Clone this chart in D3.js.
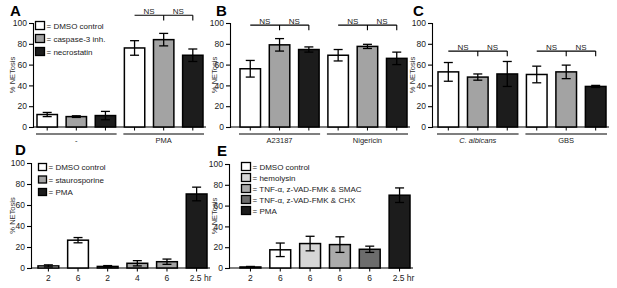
<!DOCTYPE html>
<html><head><meta charset="utf-8">
<script src="https://cdn.jsdelivr.net/npm/d3@7"></script>
<style>body{margin:0;background:#fff}svg{display:block}text{font-family:"Liberation Sans",Arial,sans-serif}</style>
</head><body>
<svg id="c" width="617" height="288"></svg>
<script>
// ---------- data ----------
const yTicks = [0, 20, 40, 60, 80, 100];
const yTitle = "% NETosis";

const aSeries = ["DMSO control", "caspase-3 inh.", "necrostatin", "DMSO control", "caspase-3 inh.", "necrostatin"];
const aValues = [12, 10, 11, 76, 84, 69];
const aErrors = [2, 0.8, 4, 7, 6, 6];
const aGroups = ["-", "PMA"];

const bSeries = aSeries;
const bValues = [56, 79, 74.5, 69, 77.5, 66];
const bErrors = [8, 6, 2.5, 5.5, 2, 6];
const bGroups = ["A23187", "Nigericin"];

const cSeries = aSeries;
const cValues = [53, 48, 51, 50.5, 53, 39];
const cErrors = [9, 3, 12, 8, 6.5, 1];
const cGroups = ["C. albicans", "GBS"];

const dSeries = ["DMSO control", "DMSO control", "staurosporine", "staurosporine", "staurosporine", "PMA"];
const dValues = [2, 26.5, 1.5, 4.5, 6, 70.5];
const dErrors = [1, 2.5, 0.8, 2.5, 2.5, 6.5];
const dLabels = ["2", "6", "2", "4", "6", "2.5 hr"];

const eSeries = ["DMSO control", "DMSO control", "hemolysin", "TNF-α, z-VAD-FMK & SMAC", "TNF-α, z-VAD-FMK & CHX", "PMA"];
const eValues = [1, 17.5, 23.5, 22.5, 18, 70];
const eErrors = [0.5, 6.5, 7, 7.5, 3, 7];
const eLabels = ["2", "6", "6", "6", "6", "2.5 hr"];

const legendA = ["DMSO control", "caspase-3 inh.", "necrostatin"];
const legendD = ["DMSO control", "staurosporine", "PMA"];
const legendE = ["DMSO control", "hemolysin", "TNF-α, z-VAD-FMK & SMAC", "TNF-α, z-VAD-FMK & CHX", "PMA"];

const colorNames = ["DMSO control", "caspase-3 inh.", "necrostatin", "staurosporine", "PMA", "hemolysin", "TNF-α, z-VAD-FMK & SMAC", "TNF-α, z-VAD-FMK & CHX"];
const colorVals  = ["#ffffff", "#a3a3a3", "#1c1c1c", "#a3a3a3", "#1c1c1c", "#d6d6d6", "#ababab", "#6c6c6c"];
const color = d3.scaleOrdinal(colorNames, colorVals);

// ---------- drawing ----------
const svg = d3.select("#c");

function panel(cfg) {
  const g = svg.append("g");
  const y = d3.scaleLinear([0, 100], [cfg.yBot, cfg.yTop]);
  const x = d3.scaleBand(d3.range(cfg.values.length), [cfg.barL, cfg.barR]).paddingInner(0.3).paddingOuter(0);
  const bw = x.bandwidth();

  // y axis
  const ya = g.append("g").attr("transform", `translate(${cfg.axisX},0)`)
    .call(d3.axisLeft(y).tickValues(yTicks).tickSize(4).tickPadding(2));
  ya.select(".domain").attr("stroke", "#000").attr("stroke-width", 1.1);
  ya.selectAll(".tick line").attr("stroke-width", 1.1);
  ya.selectAll("text").attr("font-size", 8.5).attr("fill", "#222");

  // y title
  g.append("text").attr("transform", `translate(${cfg.titleX},${(cfg.yTop + cfg.yBot) / 2}) rotate(-90)`)
    .attr("text-anchor", "middle").attr("font-size", 7.5).attr("fill", "#333").text(yTitle);

  // letter
  g.append("text").attr("x", cfg.letterX).attr("y", cfg.letterY).attr("font-size", 15)
    .attr("font-weight", "bold").text(cfg.letter);

  // x axis baseline with ticks at bar centers
  const xa = g.append("g").attr("transform", `translate(0,${cfg.yBot})`);
  xa.append("line").attr("x1", cfg.axisX).attr("x2", cfg.barR + 3).attr("stroke", "#000").attr("stroke-width", 1.1);
  xa.selectAll(".tk").data(cfg.values).join("line").attr("class", "tk")
    .attr("x1", (d, i) => x(i) + bw / 2).attr("x2", (d, i) => x(i) + bw / 2)
    .attr("y1", 0).attr("y2", 3.5).attr("stroke", "#000").attr("stroke-width", 1);

  // bars
  g.selectAll(".bar").data(cfg.values).join("rect").attr("class", "bar")
    .attr("x", (d, i) => x(i)).attr("width", bw)
    .attr("y", d => y(d)).attr("height", d => cfg.yBot - y(d))
    .attr("fill", (d, i) => color(cfg.series[i])).attr("stroke", "#000").attr("stroke-width", 1.5);

  // error bars
  const eb = g.selectAll(".eb").data(cfg.values).join("g").attr("class", "eb")
    .attr("stroke", "#000").attr("stroke-width", 1.3);
  eb.append("line").attr("x1", (d, i) => x(i) + bw / 2).attr("x2", (d, i) => x(i) + bw / 2)
    .attr("y1", (d, i) => y(d + cfg.errors[i])).attr("y2", (d, i) => y(Math.max(0, d - cfg.errors[i])));
  eb.append("line").attr("x1", (d, i) => x(i) + bw / 2 - 4.5).attr("x2", (d, i) => x(i) + bw / 2 + 4.5)
    .attr("y1", (d, i) => y(d + cfg.errors[i])).attr("y2", (d, i) => y(d + cfg.errors[i]));
  eb.append("line").attr("x1", (d, i) => x(i) + bw / 2 - 4.5).attr("x2", (d, i) => x(i) + bw / 2 + 4.5)
    .attr("y1", (d, i) => y(Math.max(0, d - cfg.errors[i]))).attr("y2", (d, i) => y(Math.max(0, d - cfg.errors[i])));

  // x labels
  if (cfg.labels) {
    g.selectAll(".xl").data(cfg.labels).join("text").attr("class", "xl")
      .attr("x", (d, i) => x(i) + bw / 2 + (d.length > 2 ? 4 : 0)).attr("y", cfg.yBot + 13)
      .attr("text-anchor", "middle").attr("font-size", 8.5).attr("fill", "#222").text(d => d);
  }
  // group lines
  if (cfg.groups) {
    cfg.groups.forEach((lab, k) => {
      const x1 = x(k * 3) - 1, x2 = x(k * 3 + 2) + bw + 1;
      g.append("line").attr("x1", x1).attr("x2", x2).attr("y1", cfg.yBot + 7).attr("y2", cfg.yBot + 7)
        .attr("stroke", "#000").attr("stroke-width", 1.1);
      g.append("text").attr("x", (x1 + x2) / 2).attr("y", cfg.yBot + 16).attr("text-anchor", "middle")
        .attr("font-size", 7.5).attr("fill", "#222").attr("font-style", cfg.italic && cfg.italic[k] ? "italic" : null)
        .text(lab);
    });
  }
  // NS brackets
  if (cfg.brackets) {
    cfg.brackets.forEach(b => {
      const c0 = x(b.start) + bw / 2, c1 = x(b.start + 1) + bw / 2, c2 = x(b.start + 2) + bw / 2;
      const by = y(b.level), bt = y(b.level - 5);
      const bg = g.append("g").attr("stroke", "#000").attr("stroke-width", 1.1);
      bg.append("line").attr("x1", c0).attr("x2", c2).attr("y1", by).attr("y2", by);
      bg.append("line").attr("x1", c1).attr("x2", c1).attr("y1", by).attr("y2", bt);
      bg.append("line").attr("x1", c2).attr("x2", c2).attr("y1", by).attr("y2", bt);
      [(c0 + c1) / 2, (c1 + c2) / 2].forEach(cx => {
        g.append("text").attr("x", cx).attr("y", by - 1.5).attr("text-anchor", "middle")
          .attr("font-size", 8).attr("fill", "#222").text("NS");
      });
    });
  }
  // legend
  if (cfg.legend) {
    const lg = g.append("g");
    cfg.legend.forEach((name, i) => {
      const ly = cfg.legendY + i * cfg.legendStep;
      lg.append("rect").attr("x", cfg.legendX).attr("y", ly).attr("width", cfg.legendBox).attr("height", cfg.legendBox - 1)
        .attr("fill", color(name)).attr("stroke", "#000").attr("stroke-width", 1.3);
      lg.append("text").attr("x", cfg.legendX + cfg.legendBox + 2).attr("y", ly + cfg.legendBox / 2 + 2.5)
        .attr("font-size", 8).attr("fill", "#222").text("= " + name);
    });
  }
}

panel({letter: "A", letterX: 10, letterY: 16, axisX: 33, barL: 37, barR: 203, yTop: 23, yBot: 127, titleX: 15,
  values: aValues, errors: aErrors, series: aSeries, groups: aGroups,
  brackets: [{start: 3, level: 107.5}],
  legend: legendA, legendX: 35.5, legendY: 21.5, legendStep: 13, legendBox: 9});

panel({letter: "B", letterX: 216, letterY: 16, axisX: 230, barL: 240, barR: 407, yTop: 23, yBot: 127, titleX: 217,
  values: bValues, errors: bErrors, series: bSeries, groups: bGroups,
  brackets: [{start: 0, level: 98}, {start: 3, level: 98}]});

panel({letter: "C", letterX: 413, letterY: 16, axisX: 432, barL: 438, barR: 606, yTop: 23, yBot: 127, titleX: 415,
  values: cValues, errors: cErrors, series: cSeries, groups: cGroups, italic: [true, false],
  brackets: [{start: 0, level: 73}, {start: 3, level: 73}]});

panel({letter: "D", letterX: 15, letterY: 155, axisX: 31, barL: 38, barR: 207, yTop: 163, yBot: 268, titleX: 15,
  values: dValues, errors: dErrors, series: dSeries, labels: dLabels,
  legend: legendD, legendX: 38.5, legendY: 163.5, legendStep: 12.5, legendBox: 8});

panel({letter: "E", letterX: 217, letterY: 156, axisX: 229, barL: 240, barR: 410, yTop: 164, yBot: 268, titleX: 217,
  values: eValues, errors: eErrors, series: eSeries, labels: eLabels,
  legend: legendE, legendX: 241.5, legendY: 162.5, legendStep: 11, legendBox: 9});
</script>
</body></html>
